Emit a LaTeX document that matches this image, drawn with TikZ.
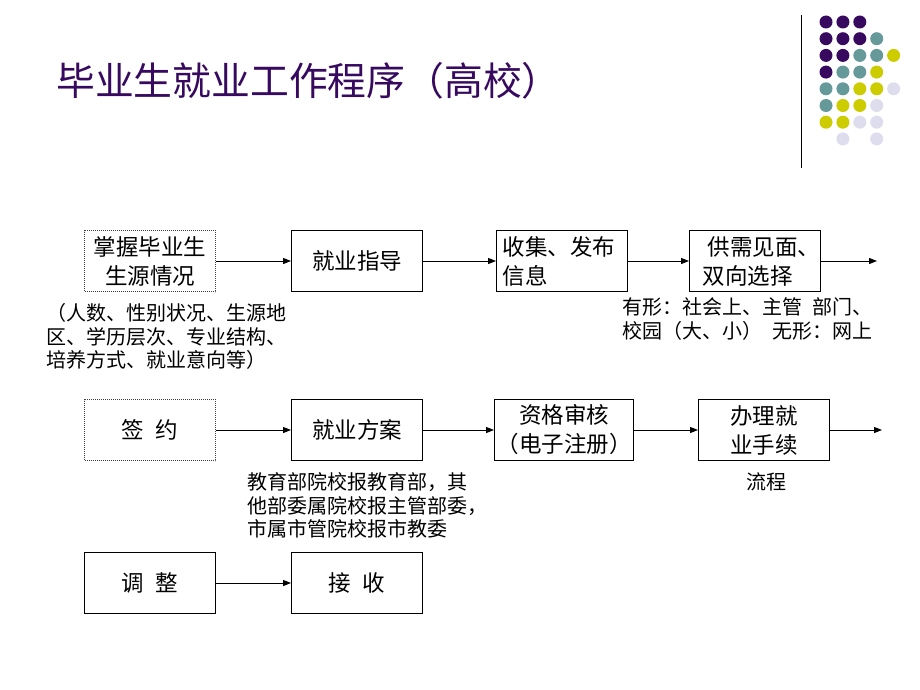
\documentclass[tikz,border=0pt]{standalone}
\usepackage{fontspec}
\setmainfont{Noto Sans CJK SC}
\usetikzlibrary{arrows.meta}
\definecolor{dp}{RGB}{55,10,95}
\definecolor{tl}{RGB}{102,153,153}
\definecolor{yl}{RGB}{204,204,0}
\definecolor{lv}{RGB}{221,221,238}
\definecolor{titlecol}{RGB}{55,10,95}
\begin{document}
\begin{tikzpicture}[x=1pt,y=-1pt,
  box/.style={draw, line width=1pt, minimum width=131pt, minimum height=61pt, inner sep=2pt,
    font=\fontsize{22.5}{29}\selectfont, align=center},
  dotbox/.style={box, draw=black!75, dash pattern=on 1pt off 1pt, line width=0.8pt},
  note/.style={font=\fontsize{20}{23.5}\selectfont, align=left, anchor=north west, inner sep=0pt},
  arr/.style={-{Triangle[length=8pt,width=6pt]}, line width=1pt}
]
\useasboundingbox (0,0) rectangle (920,690);
\fill[white] (0,0) rectangle (920,690);

% decorative dots and rule
\draw[line width=1pt] (801.5,15) -- (801.5,168);
\foreach \c/\r/\col in {1/1/dp,2/1/dp,3/1/dp,
  1/2/dp,2/2/dp,3/2/dp,4/2/tl,
  1/3/dp,2/3/dp,3/3/tl,4/3/tl,5/3/yl,
  1/4/dp,2/4/tl,3/4/tl,4/4/yl,
  1/5/tl,2/5/tl,3/5/yl,4/5/yl,5/5/lv,
  1/6/tl,2/6/yl,3/6/yl,4/6/lv,
  1/7/yl,2/7/yl,3/7/lv,4/7/lv,
  2/8/lv,4/8/lv}
  \fill[\col] ({826+16.9*(\c-1)},{22+16.7*(\r-1)}) circle (6.5);

% title
\node[anchor=west, inner sep=0pt, text=titlecol, font=\fontsize{38.8}{44}\selectfont] (title) at (56,80.5) {毕业生就业工作程序（高校）};

% row 1
\node[dotbox] (b1) at (150,261) {掌握毕业生\\生源情况};
\node[box] (b2) at (357,261) {就业指导};
\node[box, text width=119pt, align=left, inner xsep=6pt] (b3) at (562,261) {收集、发布\\信息};
\node[box, text width=131pt, align=left, inner xsep=0pt] (b4) at (755,261) {\hspace{18pt}供需见面、\\\hspace{13pt}双向选择};
\coordinate (e1) at (877,261);
\draw[arr] (b1) -- (b2);
\draw[arr] (b2) -- (b3);
\draw[arr] (b3) -- (b4);
\draw[arr] (b4) -- (e1);

\node[note] (n1) at (46,303.5) {（人数、性别状况、生源地\\区、学历层次、专业结构、\\培养方式、就业意向等）};
\node[note] (n2) at (622,297.5) {有形：社会上、主管\hspace{0.5em}部门、\\校园（大、小）\hspace{0.5em}无形：网上};

% row 2
\node[dotbox] (b5) at (150,430) {签\hspace{0.5em}约};
\node[box] (b6) at (357,430) {就业方案};
\node[box] (b7) at (564,430) {资格审核\\（电子注册）};
\node[box] (b8) at (764,430) {办理就\\业手续};
\coordinate (e2) at (882,430);
\draw[arr] (b5) -- (b6);
\draw[arr] (b6) -- (b7);
\draw[arr] (b7) -- (b8);
\draw[arr] (b8) -- (e2);

\node[note] (n3) at (247,472.5) {教育部院校报教育部，其\\他部委属院校报主管部委，\\市属市管院校报市教委};
\node[font=\fontsize{20}{23.5}\selectfont, inner sep=0pt] (n4) at (766,482) {流程};

% row 3
\node[box] (b9) at (150,583) {调\hspace{0.5em}整};
\node[box] (b10) at (357,583) {接\hspace{0.5em}收};
\draw[arr] (b9) -- (b10);
\end{tikzpicture}
\end{document}
